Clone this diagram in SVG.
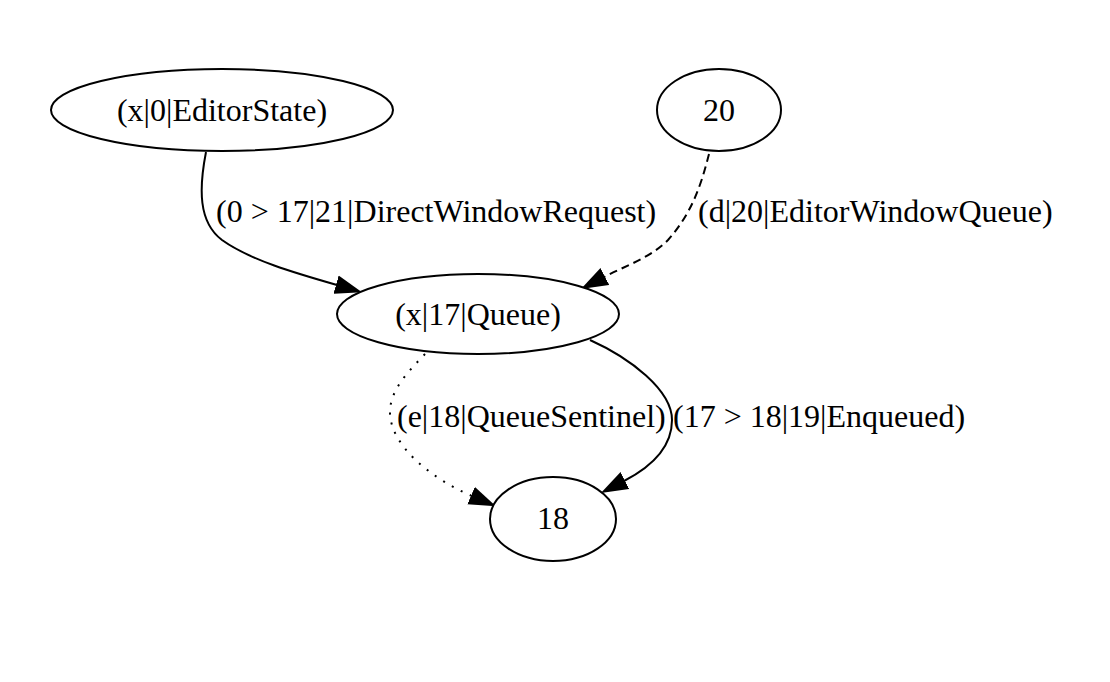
<svg xmlns="http://www.w3.org/2000/svg" width="1110" height="682" viewBox="0 0 1110 682">
<style>
.node ellipse{fill:#fff;stroke:#000;stroke-width:2}
.lbl{font-family:"Liberation Serif","Times New Roman",serif;font-size:32px;fill:#000}
.mid{text-anchor:middle}
.edge{fill:none;stroke:#000;stroke-width:2}
.dashed{stroke-dasharray:8,5}
.dotted{stroke-dasharray:2,8}
</style>
<defs>
<marker id="arr" viewBox="0 0 27 20" refX="1" refY="10" markerWidth="27" markerHeight="20" markerUnits="userSpaceOnUse" orient="auto">
<path d="M0,0.5 L27,10 L0,19.5 z" fill="#000"/>
</marker>
</defs>
<rect width="1110" height="682" fill="#fff"/>
<g id="connectors">
<path class="edge" d="M206,152 C199,188 198,222 222,240 C250,260 295,273 337,285" marker-end="url(#arr)"/>
<path class="edge dashed" d="M709,154 C700,190 690,215 668,240 C650,258 625,266 604,277" marker-end="url(#arr)"/>
<path class="edge dotted" d="M425,354 C408,372 390,390 390,412 C390,445 430,478 472,496" marker-end="url(#arr)"/>
<path class="edge" d="M590,340 C630,358 672,390 672,420 C672,445 655,465 624,481" marker-end="url(#arr)"/>
<text class="lbl" x="216" y="222">(0 &gt; 17|21|DirectWindowRequest)</text>
<text class="lbl" x="698" y="222">(d|20|EditorWindowQueue)</text>
<text class="lbl" x="397" y="427">(e|18|QueueSentinel)</text>
<text class="lbl" x="673" y="427">(17 &gt; 18|19|Enqueued)</text>
</g>
<g id="node0" class="node">
<ellipse cx="222" cy="110" rx="171" ry="41"/>
<text class="lbl mid" x="222" y="121">(x|0|EditorState)</text>
</g>
<g id="node20" class="node">
<ellipse cx="719" cy="110" rx="62" ry="41"/>
<text class="lbl mid" x="719" y="121">20</text>
</g>
<g id="node17" class="node">
<ellipse cx="478" cy="314" rx="141" ry="40"/>
<text class="lbl mid" x="478" y="325">(x|17|Queue)</text>
</g>
<g id="node18" class="node">
<ellipse cx="553" cy="519" rx="63" ry="42"/>
<text class="lbl mid" x="553" y="529">18</text>
</g>
</svg>
